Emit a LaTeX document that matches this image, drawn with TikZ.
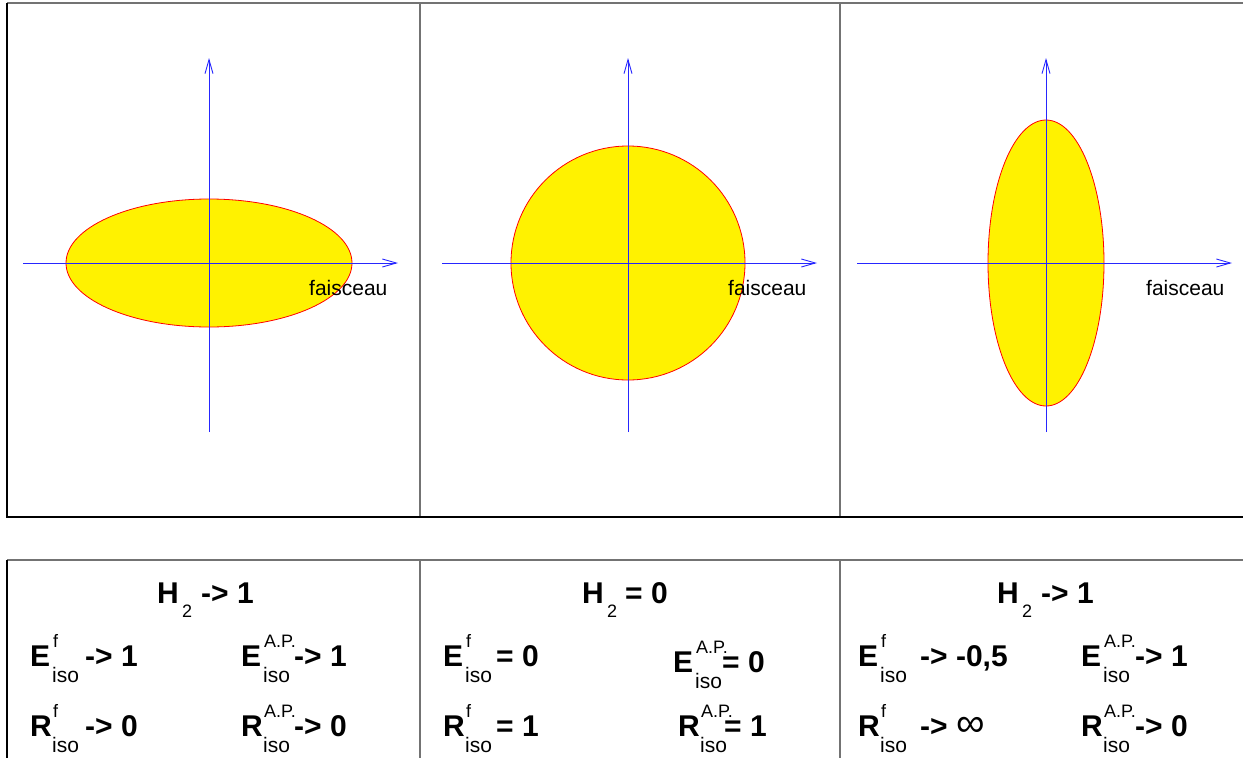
\documentclass[tikz,border=0pt]{standalone}
\usepackage{fontspec}
\setmainfont{Liberation Sans}
\usetikzlibrary{arrows.meta}
\tikzset{
  blackline/.style={line width=1.2pt,black},
  grayline/.style={line width=1.6pt,black!55},
  axis/.style={line width=0.9pt,blue!85!white,-{Straight Barb[length=14pt,width=8pt,line width=0.9pt]}},
  blob/.style={fill=yellow,draw=red,line width=0.8pt},
  txt/.style={inner sep=0pt,anchor=base west},
  big/.style={txt,font=\fontsize{30}{30}\selectfont\bfseries},
  subtxt/.style={txt,font=\fontsize{21}{21}\selectfont},
  suptxt/.style={txt,font=\fontsize{18}{18}\selectfont},
  lbl/.style={txt,font=\fontsize{21}{21}\selectfont}
}
% #1 name, #2 x, #3 baseline, #4 letter, #5 superscript, #6 offset of rest, #7 rest
\newcommand\Qent[7]{%
  \node[big] (#1L) at (#2,#3) {#4};
  \node[suptxt] (#1S) at ({#2+23},{#3-19}) {#5};
  \node[subtxt] (#1I) at ({#2+22},{#3+16}) {iso};
  \node[big] (#1R) at ({#2+#6},#3) {#7};
}
\newcommand\Qhead[4]{%
  \node[big] (#1H) at (#2,603) {H};
  \node[suptxt] (#1T) at ({#2+25},617) {2};
  \node[big] (#1V) at ({#2+#3},603) {#4};
}
\begin{document}
\begin{tikzpicture}[x=1pt,y=-1pt]
\useasboundingbox (0,0) rectangle (1243,758);
% frames
\coordinate (tl) at (7,3); \coordinate (tr) at (1243,3);
\coordinate (bl) at (7,517); \coordinate (br) at (1243,517);
\coordinate (d1t) at (420,3); \coordinate (d1b) at (420,517);
\coordinate (d2t) at (840,3); \coordinate (d2b) at (840,517);
\coordinate (ltl) at (7,560); \coordinate (ltr) at (1243,560);
\coordinate (lbl) at (7,758);
\coordinate (e1t) at (420,560); \coordinate (e1b) at (420,758);
\coordinate (e2t) at (840,560); \coordinate (e2b) at (840,758);
\draw[grayline] (tl) -- (tr);
\draw[grayline] (d1t) -- (d1b);
\draw[grayline] (d2t) -- (d2b);
\draw[blackline] (tl) -- (bl) -- (br);
\draw[grayline] (ltl) -- (ltr);
\draw[blackline] (ltl) -- (lbl);
\draw[grayline] (e1t) -- (e1b);
\draw[grayline] (e2t) -- (e2b);
% shapes
\path[blob] (209,263) ellipse [x radius=143, y radius=64];
\path[blob] (628,263) circle [radius=117];
\path[blob] (1046,263) ellipse [x radius=58, y radius=143];
% axes
\coordinate (h1a) at (23,263); \coordinate (h1b) at (398,263);
\coordinate (v1a) at (209,432); \coordinate (v1b) at (209,58);
\coordinate (h2a) at (442,263); \coordinate (h2b) at (817,263);
\coordinate (v2a) at (628,432); \coordinate (v2b) at (628,58);
\coordinate (h3a) at (857,263); \coordinate (h3b) at (1232,263);
\coordinate (v3a) at (1046,432); \coordinate (v3b) at (1046,58);
\draw[axis] (h1a) -- (h1b);
\draw[axis] (v1a) -- (v1b);
\draw[axis] (h2a) -- (h2b);
\draw[axis] (v2a) -- (v2b);
\draw[axis] (h3a) -- (h3b);
\draw[axis] (v3a) -- (v3b);
\node[lbl] (f1) at (309,295) {faisceau};
\node[lbl] (f2) at (728,295) {faisceau};
\node[lbl] (f3) at (1146,295) {faisceau};
% panel 1 text
\Qhead{a}{157}{44}{-> 1}
\Qent{ae}{30}{666}{E}{f}{55}{-> 1}
\Qent{ar}{30}{736}{R}{f}{55}{-> 0}
\Qent{aE}{241}{666}{E}{A.P.}{53}{-> 1}
\Qent{aR}{241}{736}{R}{A.P.}{53}{-> 0}
% panel 2 text
\Qhead{b}{582}{43}{= 0}
\Qent{be}{443}{666}{E}{f}{53}{= 0}
\Qent{br}{443}{736}{R}{f}{53}{= 1}
\Qent{bE}{673}{672}{E}{A.P.}{49}{= 0}
\Qent{bR}{678}{736}{R}{A.P.}{46}{= 1}
% panel 3 text
\Qhead{c}{997}{44}{-> 1}
\Qent{ce}{858}{666}{E}{f}{62}{-> -0,5}
\Qent{cr}{858}{736}{R}{f}{62}{-> \normalfont\fontsize{40}{40}\selectfont ∞}
\Qent{cE}{1081}{666}{E}{A.P.}{54}{-> 1}
\Qent{cR}{1081}{736}{R}{A.P.}{54}{-> 0}
\end{tikzpicture}
\end{document}
